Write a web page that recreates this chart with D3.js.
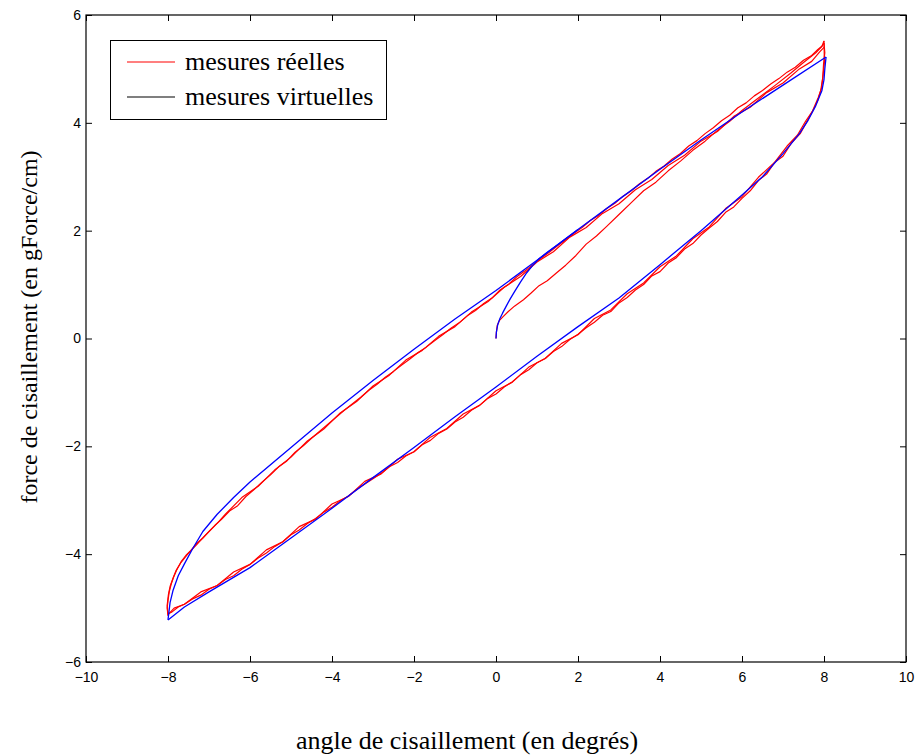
<!DOCTYPE html>
<html>
<head>
<meta charset="utf-8">
<script src="https://cdn.jsdelivr.net/npm/d3@7"></script>
<style>
  body { margin: 0; background: #fff; }
  svg { display: block; }
</style>
</head>
<body>
<div id="chart"></div>
<script>
// axis ticks
const xTicks = [-10, -8, -6, -4, -2, 0, 2, 4, 6, 8, 10];
const yTicks = [-6, -4, -2, 0, 2, 4, 6];

// mesures virtuelles (blue): first loading, descending branch, ascending branch
const blueInit = [[0,0],[0.01,0.12],[0.04,0.25],[0.09,0.36],[0.16,0.47],[0.25,0.6],[0.35,0.74],[0.46,0.88],[0.6,1.05],[0.75,1.22],[0.9,1.36],[1.05,1.48],[1.25,1.6],[1.5,1.74],[2,2.02]];
const blueDown = [[8.05,5.22],[8.02,5.0],[8.0,4.8],[7.95,4.6],[7.8,4.32],[7.6,4.03],[7.4,3.8],[7.0,3.43],[6.5,3.0],[6.0,2.66],[5.0,2.0],[4.0,1.37],[3.0,0.75],[2.0,0.22],[1.0,-0.33],[0,-0.9],[-1,-1.45],[-2,-2.02],[-3,-2.58],[-4,-3.15],[-5,-3.7],[-6,-4.25],[-7,-4.7],[-7.6,-4.98],[-8,-5.22]];
const blueUp = [[-8.0,-5.22],[-7.95,-4.9],[-7.88,-4.68],[-7.75,-4.4],[-7.6,-4.18],[-7.4,-3.9],[-7.15,-3.58],[-6.8,-3.26],[-6.4,-2.95],[-6.0,-2.66],[-5.0,-2.02],[-4.0,-1.38],[-3.0,-0.78],[-2.0,-0.2],[-1.0,0.36],[0,0.89],[1,1.45],[2,2.02],[3,2.58],[4,3.14],[5,3.68],[6,4.2],[7,4.7],[8.05,5.22]];

// mesures réelles (red): first loading then two cycles
const redLoad = [[0,0],[0.01,0.12],[0.03,0.24],[0.08,0.33],[0.18,0.41],[0.3,0.5],[0.45,0.6],[0.67,0.72],[0.85,0.84],[1.05,0.98],[1.25,1.07],[1.48,1.22],[1.7,1.36],[1.95,1.54],[2.2,1.75],[2.45,1.9],[2.7,2.08],[3.0,2.3],[3.3,2.52],[3.6,2.74],[3.9,2.9],[4.2,3.11],[4.5,3.29],[4.8,3.49],[5.1,3.66],[5.4,3.86],[5.7,4.03],[6.0,4.23],[6.4,4.46],[6.8,4.69],[7.2,4.93],[7.5,5.12],[7.8,5.3],[7.95,5.42],[8.0,5.48]];
const redDown1 = [[8.0,5.48],[8.02,5.3],[7.99,5.1],[7.97,4.84],[7.92,4.6],[7.85,4.42],[7.76,4.27],[7.6,4.05],[7.42,3.8],[7.2,3.62],[7.0,3.38],[6.8,3.27],[6.6,3.05],[6.4,2.93],[6.2,2.74],[6.0,2.6],[5.8,2.44],[5.6,2.34],[5.4,2.17],[5.2,2.05],[5.0,1.92],[4.8,1.76],[4.6,1.66],[4.4,1.5],[4.2,1.4],[4.0,1.24],[3.8,1.16],[3.6,1.0],[3.4,0.9],[3.2,0.76],[3.0,0.66],[2.8,0.5],[2.6,0.43],[2.4,0.3],[2.2,0.2],[2.0,0.08],[1.8,-0.02],[1.6,-0.15],[1.4,-0.24],[1.2,-0.37],[1.0,-0.45],[0.8,-0.58],[0.6,-0.67],[0.4,-0.8],[0.2,-0.9],[0.0,-1.03],[-0.2,-1.11],[-0.4,-1.24],[-0.6,-1.33],[-0.8,-1.46],[-1.0,-1.55],[-1.2,-1.68],[-1.4,-1.76],[-1.6,-1.89],[-1.8,-1.97],[-2.0,-2.1],[-2.2,-2.18],[-2.4,-2.3],[-2.6,-2.38],[-2.8,-2.5],[-3.0,-2.6],[-3.2,-2.7],[-3.4,-2.8],[-3.6,-2.92],[-3.8,-3.01],[-4.0,-3.13],[-4.2,-3.22],[-4.4,-3.34],[-4.6,-3.43],[-4.8,-3.55],[-5.0,-3.64],[-5.2,-3.77],[-5.4,-3.86],[-5.6,-3.98],[-5.8,-4.07],[-6.0,-4.19],[-6.2,-4.28],[-6.4,-4.4],[-6.6,-4.47],[-6.8,-4.58],[-7.0,-4.65],[-7.2,-4.76],[-7.4,-4.83],[-7.6,-4.93],[-7.75,-4.98],[-7.9,-5.07],[-7.98,-5.1],[-8.0,-5.14]];
const redUp1 = [[-8.0,-5.14],[-8.02,-5.0],[-8.0,-4.86],[-7.97,-4.7],[-7.92,-4.55],[-7.86,-4.42],[-7.78,-4.28],[-7.68,-4.14],[-7.56,-4.02],[-7.44,-3.93],[-7.3,-3.8],[-7.15,-3.7],[-7.0,-3.58],[-6.85,-3.46],[-6.7,-3.36],[-6.5,-3.2],[-6.3,-3.1],[-6.1,-2.93],[-5.9,-2.8],[-5.7,-2.66],[-5.5,-2.53],[-5.3,-2.38],[-5.1,-2.27],[-4.9,-2.11],[-4.7,-1.99],[-4.5,-1.85],[-4.3,-1.72],[-4.1,-1.59],[-3.9,-1.46],[-3.7,-1.33],[-3.5,-1.21],[-3.3,-1.09],[-3.1,-0.96],[-2.9,-0.85],[-2.7,-0.72],[-2.5,-0.61],[-2.3,-0.49],[-2.1,-0.38],[-1.9,-0.26],[-1.7,-0.16],[-1.5,-0.04],[-1.3,0.07],[-1.1,0.19],[-0.9,0.29],[-0.7,0.42],[-0.5,0.52],[-0.3,0.65],[-0.1,0.75],[0.1,0.9],[0.3,1.0],[0.5,1.14],[0.7,1.25],[0.9,1.37],[1.1,1.49],[1.3,1.6],[1.5,1.72],[1.7,1.83],[1.9,1.95],[2.1,2.06],[2.3,2.19],[2.5,2.28],[2.7,2.41],[2.9,2.51],[3.1,2.64],[3.3,2.74],[3.5,2.87],[3.7,2.97],[3.9,3.1],[4.1,3.2],[4.3,3.33],[4.5,3.43],[4.7,3.57],[4.9,3.67],[5.1,3.8],[5.3,3.91],[5.5,4.04],[5.7,4.14],[5.9,4.28],[6.1,4.37],[6.3,4.5],[6.5,4.6],[6.7,4.72],[6.9,4.82],[7.1,4.94],[7.3,5.03],[7.5,5.16],[7.7,5.25],[7.85,5.36],[7.95,5.42],[8.0,5.52]];
const redDown2 = [[8.0,5.52],[8.01,5.12],[7.98,4.9],[7.94,4.64],[7.86,4.47],[7.72,4.22],[7.55,4.03],[7.35,3.77],[7.1,3.57],[6.8,3.27],[6.4,2.99],[6.0,2.63],[5.6,2.41],[5.2,2.07],[4.8,1.85],[4.4,1.53],[4.0,1.33],[3.6,1.03],[3.2,0.83],[2.8,0.53],[2.4,0.37],[2.0,0.07],[1.6,-0.09],[1.2,-0.37],[0.8,-0.53],[0.4,-0.81],[0.0,-0.97],[-0.4,-1.24],[-0.8,-1.4],[-1.2,-1.67],[-1.6,-1.83],[-2.0,-2.1],[-2.4,-2.24],[-2.8,-2.51],[-3.2,-2.65],[-3.6,-2.93],[-4.0,-3.07],[-4.4,-3.35],[-4.8,-3.49],[-5.2,-3.77],[-5.6,-3.92],[-6.0,-4.19],[-6.4,-4.33],[-6.8,-4.58],[-7.2,-4.7],[-7.6,-4.93],[-7.85,-5.0],[-8.0,-5.12]];
const redUp2 = [[-8.0,-5.12],[-8.02,-4.95],[-7.99,-4.75],[-7.95,-4.6],[-7.88,-4.45],[-7.8,-4.3],[-7.68,-4.15],[-7.5,-3.98],[-7.3,-3.82],[-7.05,-3.62],[-6.8,-3.43],[-6.6,-3.26],[-6.2,-2.95],[-5.8,-2.74],[-5.4,-2.44],[-5.0,-2.2],[-4.6,-1.9],[-4.2,-1.68],[-3.8,-1.38],[-3.4,-1.17],[-3.0,-0.88],[-2.6,-0.68],[-2.2,-0.4],[-1.8,-0.22],[-1.4,0.04],[-1.0,0.22],[-0.6,0.49],[-0.2,0.68],[0.2,0.95],[0.6,1.15],[1.0,1.42],[1.4,1.61],[1.8,1.88],[2.2,2.06],[2.6,2.32],[3.0,2.5],[3.4,2.76],[3.8,2.95],[4.2,3.21],[4.6,3.4],[5.0,3.66],[5.4,3.84],[5.8,4.12],[6.2,4.29],[6.6,4.56],[7.0,4.74],[7.4,5.0],[7.7,5.14],[7.9,5.32],[8.0,5.4]];

const legendLabels = ["mesures réelles", "mesures virtuelles"];

const width = 915, height = 755;
const svg = d3.select("#chart").append("svg")
    .attr("width", width)
    .attr("height", height);

const x = d3.scaleLinear().domain([-10, 10]).range([86, 906]);
const y = d3.scaleLinear().domain([-6, 6]).range([662, 15]);

const tickFont = "'Liberation Sans', Arial, sans-serif";
const serifFont = "'Liberation Serif', 'Times New Roman', serif";

function styleAxis(g) {
    g.select(".domain").remove();
    g.selectAll(".tick line").attr("stroke", "#000");
    g.selectAll(".tick text").attr("fill", "#000")
        .style("font-family", tickFont).style("font-size", "14px");
}

// bottom / left with labels, top / right ticks only
svg.append("g")
    .attr("transform", "translate(0," + y(-6) + ")")
    .call(d3.axisBottom(x).tickValues(xTicks).tickSize(-6).tickSizeOuter(0).tickPadding(10))
    .call(styleAxis);
svg.append("g")
    .attr("transform", "translate(" + x(-10) + ",0)")
    .call(d3.axisLeft(y).tickValues(yTicks).tickSize(-6).tickSizeOuter(0).tickPadding(5))
    .call(styleAxis);
svg.append("g")
    .attr("transform", "translate(0," + y(6) + ")")
    .call(d3.axisTop(x).tickValues(xTicks).tickSize(-6).tickSizeOuter(0).tickFormat(""))
    .call(styleAxis);
svg.append("g")
    .attr("transform", "translate(" + x(10) + ",0)")
    .call(d3.axisRight(y).tickValues(yTicks).tickSize(-6).tickSizeOuter(0).tickFormat(""))
    .call(styleAxis);

svg.append("rect")
    .attr("x", x(-10)).attr("y", y(6))
    .attr("width", x(10) - x(-10)).attr("height", y(-6) - y(6))
    .attr("fill", "none").attr("stroke", "#000").attr("stroke-width", 1.2);

const line = d3.line().x(d => x(d[0])).y(d => y(d[1]));

[redLoad, redDown1, redUp1, redDown2, redUp2].forEach(function (seg) {
    svg.append("path")
        .datum(seg)
        .attr("fill", "none")
        .attr("stroke", "#ff0000")
        .attr("stroke-width", 1.2)
        .attr("stroke-linejoin", "round")
        .attr("d", line);
});

[blueInit, blueDown, blueUp].forEach(function (seg) {
    svg.append("path")
        .datum(seg)
        .attr("fill", "none")
        .attr("stroke", "#0000ff")
        .attr("stroke-width", 1.3)
        .attr("stroke-linejoin", "round")
        .attr("d", line);
});

// legend (MATLAB draws the second entry in black)
const legend = svg.append("g");
legend.append("rect")
    .attr("x", 110.5).attr("y", 40.5).attr("width", 276).attr("height", 79)
    .attr("fill", "#fff").attr("stroke", "#000").attr("stroke-width", 1);
const legendColors = ["#ff0000", "#000000"];
legendLabels.forEach(function (lab, i) {
    const ly = 62 + i * 35;
    legend.append("line")
        .attr("x1", 127).attr("x2", 175).attr("y1", ly).attr("y2", ly)
        .attr("stroke", legendColors[i]).attr("stroke-width", 1.2);
    legend.append("text")
        .attr("x", 185).attr("y", ly).attr("dy", "0.3em")
        .style("font-family", serifFont).style("font-size", "26px")
        .text(lab);
});

// axis titles
svg.append("text")
    .attr("x", 467).attr("y", 741).attr("dy", "0.3em")
    .attr("text-anchor", "middle")
    .style("font-family", serifFont).style("font-size", "26px")
    .text("angle de cisaillement (en degrés)");
svg.append("text")
    .attr("transform", "translate(30,327) rotate(-90)")
    .attr("dy", "0.3em")
    .attr("text-anchor", "middle")
    .style("font-family", serifFont).style("font-size", "24px")
    .text("force de cisaillement (en gForce/cm)");
</script>
</body>
</html>
